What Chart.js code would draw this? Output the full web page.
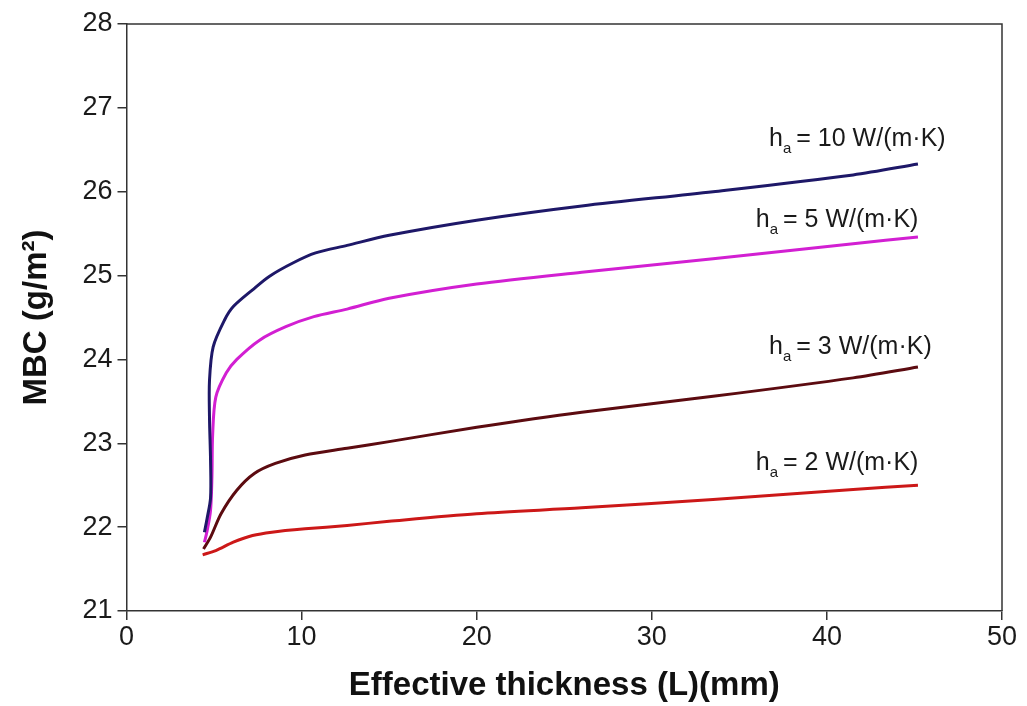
<!DOCTYPE html>
<html>
<head>
<meta charset="utf-8">
<title>MBC vs effective thickness</title>
<script src="https://cdn.jsdelivr.net/npm/chart.js@4/dist/chart.umd.min.js"></script>
<style>
    html, body { margin: 0; padding: 0; background: #fff; }
    #wrap { width: 1027px; height: 706px; }
</style>
</head>
<body>
<div id="wrap"><canvas id="mbcChart" width="1027" height="706"></canvas></div>
<script>
// Axis ticks
const xTicks = [0, 10, 20, 30, 40, 50];
const yTicks = [21, 22, 23, 24, 25, 26, 27, 28];

// h_a = 10 W/(m·K)
const L_h10   = [4.45, 4.6, 4.8, 4.8, 4.74, 4.74, 4.95, 5.6, 6.1, 7.2, 8.15, 9.5, 10.8, 12.6, 15, 20, 26, 33.5, 41.5, 45.2];
const MBC_h10 = [21.94, 22.1, 22.35, 22.8, 23.3, 23.75, 24.15, 24.47, 24.63, 24.83, 24.99, 25.15, 25.27, 25.36, 25.48, 25.66, 25.83, 26.0, 26.2, 26.33];

// h_a = 5 W/(m·K)
const L_h5   = [4.45, 4.6, 4.8, 4.88, 4.92, 5.1, 5.7, 6.3, 7.6, 9.1, 10.7, 12.6, 15, 20, 26, 33.5, 41.5, 45.2];
const MBC_h5 = [21.82, 21.95, 22.2, 22.6, 23.1, 23.55, 23.84, 24.0, 24.23, 24.39, 24.51, 24.6, 24.73, 24.9, 25.04, 25.2, 25.38, 25.46];

// h_a = 3 W/(m·K)
const L_h3   = [4.4, 4.8, 5.4, 6.3, 7.3, 8.5, 10.2, 12.6, 15, 20, 26, 33.5, 41.5, 45.2];
const MBC_h3 = [21.74, 21.88, 22.16, 22.44, 22.64, 22.76, 22.86, 22.94, 23.02, 23.19, 23.37, 23.56, 23.78, 23.91];

// h_a = 2 W/(m·K)
const L_h2   = [4.35, 5.1, 6.1, 7.2, 8.3, 10.2, 12.6, 15, 20, 26, 33.5, 41.5, 45.2];
const MBC_h2 = [21.67, 21.72, 21.82, 21.9, 21.94, 21.98, 22.02, 22.07, 22.16, 22.23, 22.33, 22.45, 22.5];

const FONT = '"Liberation Sans", Arial, Helvetica, sans-serif';
const AXIS_COLOR = '#333';

const toPoints = (xs, ys) => xs.map((x, i) => ({ x: x, y: ys[i] }));

const curves = [
    { value: '10', xs: L_h10, ys: MBC_h10, color: '#1e1868', label: { x: 36.7, y: 26.54 } },
    { value: '5',  xs: L_h5,  ys: MBC_h5,  color: '#d21fd2', label: { x: 35.94, y: 25.58 } },
    { value: '3',  xs: L_h3,  ys: MBC_h3,  color: '#5c0b10', label: { x: 36.7, y: 24.07 } },
    { value: '2',  xs: L_h2,  ys: MBC_h2,  color: '#cc1818', label: { x: 35.94, y: 22.68 } }
];

// top and right edges of the plot box
const frameBox = {
    id: 'frameBox',
    afterDraw(chart) {
        const { ctx, chartArea: a } = chart;
        ctx.save();
        ctx.strokeStyle = AXIS_COLOR;
        ctx.lineWidth = 1.5;
        ctx.beginPath();
        ctx.moveTo(a.left, a.top);
        ctx.lineTo(a.right, a.top);
        ctx.lineTo(a.right, a.bottom);
        ctx.stroke();
        ctx.restore();
    }
};

// "h_a = N W/(m·K)" label next to each curve
const curveLabels = {
    id: 'curveLabels',
    afterDatasetsDraw(chart) {
        const { ctx, scales } = chart;
        ctx.save();
        ctx.fillStyle = '#1a1a1a';
        ctx.textBaseline = 'alphabetic';
        ctx.textAlign = 'left';
        curves.forEach(c => {
            let px = scales.x.getPixelForValue(c.label.x);
            const py = scales.y.getPixelForValue(c.label.y);
            ctx.font = '25px ' + FONT;
            ctx.fillText('h', px, py);
            px += ctx.measureText('h').width;
            ctx.font = '15px ' + FONT;
            ctx.fillText('a', px, py + 7);
            px += ctx.measureText('a').width - 2;
            ctx.font = '25px ' + FONT;
            ctx.fillText(' = ' + c.value + ' W/(m\u00B7K)', px, py);
        });
        ctx.restore();
    }
};

new Chart(document.getElementById('mbcChart'), {
    type: 'line',
    data: {
        datasets: curves.map(c => ({
            label: 'h_a = ' + c.value + ' W/(m·K)',
            data: toPoints(c.xs, c.ys),
            borderColor: c.color,
            backgroundColor: c.color,
            borderWidth: 3,
            pointRadius: 0,
            tension: 0.3,
            fill: false
        }))
    },
    options: {
        responsive: false,
        animation: false,
        layout: { padding: { left: 0, right: 25, top: 24, bottom: 0 } },
        plugins: {
            legend: { display: false },
            tooltip: { enabled: false }
        },
        scales: {
            x: {
                type: 'linear',
                min: xTicks[0],
                max: xTicks[xTicks.length - 1],
                afterBuildTicks: s => { s.ticks = xTicks.map(v => ({ value: v })); },
                afterFit: s => { s.height = 95; },
                grid: { drawOnChartArea: false, drawTicks: true, tickLength: 9, color: AXIS_COLOR, lineWidth: 1.5 },
                border: { color: AXIS_COLOR, width: 1.5 },
                ticks: { color: '#1a1a1a', font: { family: FONT, size: 27 }, padding: 1, maxRotation: 0 },
                title: {
                    display: true,
                    text: 'Effective thickness (L)(mm)',
                    color: '#111',
                    font: { family: FONT, size: 33, weight: 'bold' },
                    padding: { top: 0, bottom: 0 }
                }
            },
            y: {
                type: 'linear',
                min: yTicks[0],
                max: yTicks[yTicks.length - 1],
                afterBuildTicks: s => { s.ticks = yTicks.map(v => ({ value: v })); },
                afterFit: s => { s.width = 126.5; },
                grid: { drawOnChartArea: false, drawTicks: true, tickLength: 9, color: AXIS_COLOR, lineWidth: 1.5 },
                border: { color: AXIS_COLOR, width: 1.5 },
                ticks: { color: '#1a1a1a', font: { family: FONT, size: 27 }, padding: 5 },
                title: {
                    display: true,
                    text: 'MBC (g/m²)',
                    color: '#111',
                    font: { family: FONT, size: 33, weight: 'bold' },
                    padding: { top: 17, bottom: 0 }
                }
            }
        }
    },
    plugins: [frameBox, curveLabels]
});
</script>
</body>
</html>
